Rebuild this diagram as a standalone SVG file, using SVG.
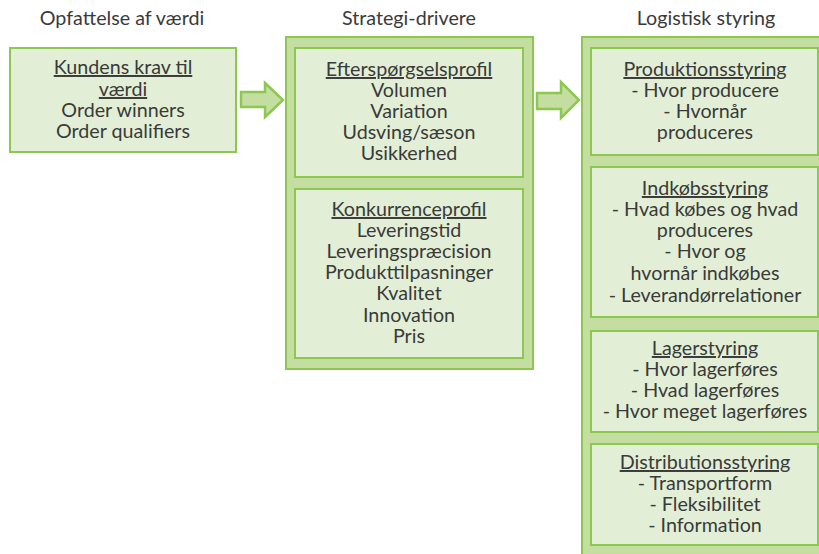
<svg xmlns="http://www.w3.org/2000/svg" width="819" height="554" viewBox="0 0 819 554">
  <style>
    .outer { fill: #c4dea2; stroke: #8cc84f; stroke-width: 2; }
    .inner { fill: #e2efd6; stroke: #8cc84f; stroke-width: 2; }
    .arrow { fill: #c4dea2; stroke: #8cc84f; stroke-width: 2.5; stroke-linejoin: miter; }
    text { font-family: Lato, "Open Sans", "Liberation Sans", sans-serif; font-size: 19.7px; fill: #3a3a3a; text-anchor: middle; }
    .u { text-decoration: underline; }
  </style>

  <rect width="819" height="554" fill="#ffffff"/>

  <!-- column headings -->
  <g id="headings">
    <text x="122" y="25">Opfattelse af værdi</text>
    <text x="409" y="25">Strategi-drivere</text>
    <text x="706" y="25">Logistisk styring</text>
  </g>

  <!-- column containers -->
  <g id="col-strategi">
    <rect class="outer" x="286" y="37" width="247" height="332"/>
  </g>
  <g id="col-logistik">
    <rect class="outer" x="582" y="37" width="250" height="530"/>
  </g>

  <!-- connectors -->
  <g id="connectors">
    <polygon class="arrow" points="241,92 265,92 265,83 283,100 265,117 265,107 241,107"/>
    <polygon class="arrow" points="537,93 561,93 561,82 579,100 561,118 561,109 537,109"/>
  </g>

  <g id="kundens-krav">
    <rect class="inner" x="10" y="48" width="226" height="104"/>
    <text x="123" y="74" class="u">Kundens krav til</text>
    <text x="123" y="96" class="u">værdi</text>
    <text x="123" y="117">Order winners</text>
    <text x="123" y="138">Order qualifiers</text>
  </g>

  <g id="efterspoergselsprofil">
    <rect class="inner" x="295" y="48" width="228" height="129"/>
    <text x="409" y="76" class="u">Efterspørgselsprofil</text>
    <text x="409" y="97">Volumen</text>
    <text x="409" y="118">Variation</text>
    <text x="409" y="139">Udsving/sæson</text>
    <text x="409" y="160">Usikkerhed</text>
  </g>

  <g id="konkurrenceprofil">
    <rect class="inner" x="295" y="189" width="228" height="169"/>
    <text x="409" y="216" class="u">Konkurrenceprofil</text>
    <text x="409" y="237">Leveringstid</text>
    <text x="409" y="258">Leveringspræcision</text>
    <text x="409" y="279">Produkttilpasninger</text>
    <text x="409" y="300">Kvalitet</text>
    <text x="409" y="322">Innovation</text>
    <text x="409" y="343">Pris</text>
  </g>

  <g id="produktionsstyring">
    <rect class="inner" x="591" y="48" width="227" height="107"/>
    <text x="705" y="76" class="u">Produktionsstyring</text>
    <text x="705" y="97">- Hvor producere</text>
    <text x="705" y="118">- Hvornår</text>
    <text x="705" y="139">produceres</text>
  </g>

  <g id="indkoebsstyring">
    <rect class="inner" x="591" y="167" width="227" height="150"/>
    <text x="705" y="195" class="u">Indkøbsstyring</text>
    <text x="705" y="216">- Hvad købes og hvad</text>
    <text x="705" y="237">produceres</text>
    <text x="705" y="258">- Hvor og</text>
    <text x="705" y="280">hvornår indkøbes</text>
    <text x="705" y="302">- Leverandørrelationer</text>
  </g>

  <g id="lagerstyring">
    <rect class="inner" x="591" y="331" width="227" height="101"/>
    <text x="705" y="355" class="u">Lagerstyring</text>
    <text x="705" y="376">- Hvor lagerføres</text>
    <text x="705" y="397">- Hvad lagerføres</text>
    <text x="705" y="418">- Hvor meget lagerføres</text>
  </g>

  <g id="distributionsstyring">
    <rect class="inner" x="591" y="444" width="227" height="101"/>
    <text x="705" y="469" class="u">Distributionsstyring</text>
    <text x="705" y="490">- Transportform</text>
    <text x="705" y="511">- Fleksibilitet</text>
    <text x="705" y="532">- Information</text>
  </g>
</svg>
